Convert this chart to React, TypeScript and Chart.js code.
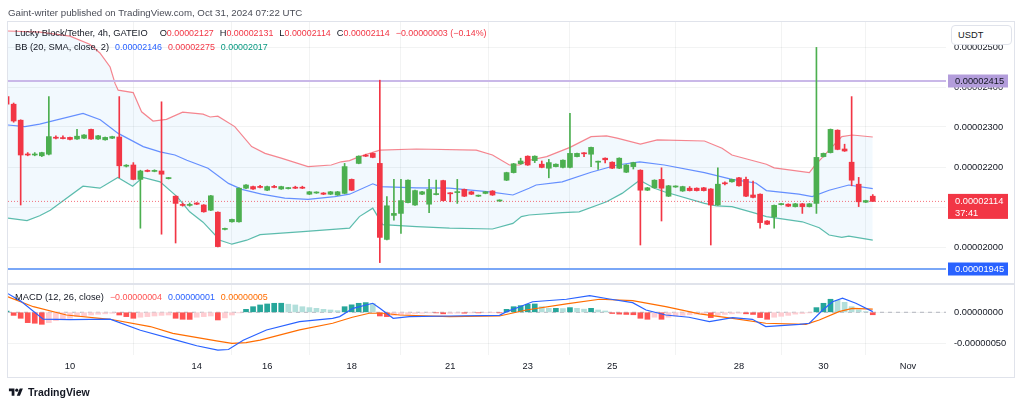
import React, { useEffect, useRef } from "react";
import { Chart, registerables } from "chart.js";

Chart.register(...registerables);

// Prices are in units of 1e-8 USDT (2300 = 0.00002300)
const candleOpen = [
  2376, 2357, 2317, 2232, 2230, 2228, 2232, 2274, 2273, 2274,
  2270, 2272, 2294, 2270, 2268, 2272, 2275, 2202, 2205, 2169,
  2191, 2189, 2190, 2171, 2127, 2106, 2104, 2110, 2105, 2092,
  2087, 2044, 2063, 2063, 2147, 2151, 2151, 2142, 2151, 2145,
  2146, 2149, 2149, 2132, 2135, 2135, 2132, 2130, 2134, 2169,
  2209, 2229, 2234, 2209, 2019, 2079, 2084, 2111, 2105, 2132,
  2107, 2131, 2166, 2135, 2136, 2144, 2138, 2127, 2134, 2140,
  2115, 2167, 2186, 2208, 2227, 2216, 2207, 2197, 2201, 2199,
  2199, 2226, 2235, 2232, 2212, 2222, 2212, 2197, 2187, 2201,
  2192, 2142, 2148, 2169, 2127, 2150, 2140, 2147, 2147, 2148,
  2145, 2105, 2160, 2163, 2173, 2169, 2130, 2132, 2065, 2075,
  2106, 2107, 2101, 2108, 2101, 2109, 2226, 2236, 2292, 2245,
  2212, 2157, 2112, 2127,
];
const candleHigh = [
  2380, 2360, 2318, 2236, 2236, 2237, 2376, 2278, 2278, 2275,
  2294, 2281, 2295, 2279, 2275, 2277, 2376, 2206, 2211, 2192,
  2193, 2193, 2363, 2174, 2128, 2110, 2110, 2111, 2106, 2129,
  2088, 2047, 2070, 2148, 2156, 2152, 2154, 2152, 2154, 2152,
  2149, 2152, 2152, 2139, 2138, 2136, 2139, 2139, 2209, 2170,
  2228, 2232, 2235, 2417, 2126, 2169, 2169, 2168, 2142, 2139,
  2169, 2167, 2167, 2136, 2169, 2145, 2139, 2130, 2139, 2141,
  2118, 2187, 2209, 2222, 2228, 2228, 2215, 2219, 2208, 2218,
  2334, 2235, 2236, 2250, 2215, 2223, 2213, 2223, 2206, 2212,
  2193, 2149, 2168, 2198, 2154, 2153, 2152, 2151, 2148, 2149,
  2146, 2198, 2163, 2170, 2174, 2175, 2165, 2133, 2066, 2105,
  2109, 2108, 2109, 2109, 2109, 2499, 2235, 2295, 2293, 2257,
  2376, 2174, 2117, 2131,
];
const candleLow = [
  2350, 2312, 2105, 2228, 2228, 2226, 2230, 2270, 2270, 2268,
  2269, 2271, 2269, 2269, 2267, 2271, 2173, 2200, 2168, 2047,
  2188, 2188, 2032, 2170, 2010, 2102, 2102, 2106, 2087, 2091,
  2000, 2043, 2062, 2062, 2146, 2144, 2148, 2141, 2148, 2144,
  2145, 2146, 2146, 2131, 2134, 2131, 2131, 2129, 2133, 2141,
  2208, 2226, 2223, 1961, 2018, 2067, 2034, 2110, 2104, 2131,
  2086, 2130, 2115, 2113, 2109, 2126, 2131, 2126, 2133, 2129,
  2114, 2166, 2185, 2207, 2204, 2211, 2198, 2173, 2200, 2198,
  2198, 2225, 2226, 2201, 2194, 2210, 2196, 2196, 2186, 2195,
  2005, 2141, 2147, 2065, 2126, 2149, 2139, 2140, 2140, 2140,
  2005, 2104, 2155, 2162, 2152, 2126, 2123, 2047, 2056, 2047,
  2105, 2101, 2100, 2084, 2100, 2084, 2225, 2235, 2243, 2239,
  2153, 2101, 2111, 2114,
];
const candleClose = [
  2357, 2315, 2230, 2230, 2232, 2236, 2276, 2272, 2271, 2269,
  2277, 2280, 2270, 2278, 2274, 2276, 2203, 2204, 2169, 2190,
  2189, 2191, 2182, 2173, 2109, 2104, 2106, 2107, 2088, 2128,
  2001, 2046, 2069, 2147, 2155, 2145, 2149, 2151, 2149, 2151,
  2148, 2147, 2147, 2138, 2137, 2132, 2138, 2138, 2201, 2142,
  2227, 2227, 2224, 2024, 2103, 2084, 2116, 2167, 2141, 2138,
  2144, 2133, 2116, 2133, 2138, 2127, 2132, 2129, 2138, 2130,
  2117, 2186, 2208, 2215, 2205, 2227, 2199, 2211, 2207, 2217,
  2234, 2234, 2233, 2249, 2214, 2218, 2197, 2222, 2205, 2211,
  2142, 2148, 2167, 2147, 2153, 2152, 2151, 2141, 2141, 2141,
  2105, 2157, 2158, 2169, 2153, 2127, 2124, 2061, 2057, 2104,
  2108, 2102, 2108, 2101, 2108, 2224, 2234, 2294, 2244, 2240,
  2167, 2113, 2116, 2114,
];

// x-axis day labels (bar index where each day starts)
const dayTickIndex = [9, 27, 37, 49, 63, 74, 86, 104, 116, 128];
const dayTickLabel = ["10", "14", "16", "18", "21", "23", "25", "28", "30", "Nov"];

// Bollinger Bands (20, SMA, close, 2) vertices: [bar index, value]
const bbUpper = [
  [0.2, 2540], [4.75, 2537], [9, 2527], [11.8, 2507], [13.25, 2485], [14.7, 2450],
  [15.4, 2409], [15.85, 2392], [17.98, 2386], [19.17, 2338], [20.8, 2315], [22.7, 2319],
  [25, 2337], [27.9, 2332], [28.9, 2325], [30, 2327], [32.4, 2301], [34.8, 2251],
  [36.7, 2234], [39, 2222], [42.8, 2201], [46.1, 2205], [47.5, 2213], [48.7, 2216],
  [50.1, 2226], [53, 2242], [58.2, 2245], [66.7, 2242], [69, 2230], [71.4, 2205],
  [72.8, 2205], [74.2, 2217], [76.7, 2226], [80, 2249], [83, 2276], [85.2, 2278],
  [86.7, 2272], [90, 2257], [92.4, 2268], [99.1, 2265], [101.6, 2247], [103, 2230],
  [107.9, 2207], [109, 2198], [114, 2186], [114.7, 2202], [116.8, 2242], [118.6, 2276],
  [120.1, 2280], [123, 2275],
];
const bbMiddle = [
  [0.2, 2305], [2.6, 2301], [4.7, 2307], [10.85, 2334], [13.3, 2318], [15.85, 2284],
  [19.4, 2251], [21.8, 2238], [23.9, 2230], [25.6, 2217], [28.6, 2197], [31.5, 2159],
  [33.4, 2144], [36.2, 2132], [39.5, 2122], [42.8, 2119], [46.6, 2126], [48.7, 2132],
  [52, 2158], [53, 2151], [58.2, 2148], [62.9, 2147], [68.6, 2138], [71.9, 2130],
  [74.2, 2147], [75.2, 2155], [78.9, 2163], [83, 2187], [86.7, 2205], [89.9, 2213],
  [93.4, 2205], [99.1, 2186], [103, 2169], [106.4, 2160], [107.9, 2141], [112.5, 2132],
  [114.4, 2126], [116.8, 2142], [119.6, 2155], [123, 2146],
];
const bbLower = [
  [0.2, 2072], [2.9, 2066], [4.7, 2078], [6.2, 2092], [10.85, 2152], [13.25, 2147],
  [15.8, 2174], [17.9, 2152], [19.35, 2174], [21.8, 2163], [24.2, 2126], [26, 2088],
  [27.9, 2062], [30.3, 2017], [32, 2007], [34.1, 2017], [36, 2031], [41.6, 2038],
  [48.7, 2047], [50.1, 2076], [52, 2097], [53.4, 2056], [58.2, 2051], [62.9, 2047],
  [69, 2045], [71.9, 2059], [73.1, 2076], [74.2, 2080], [78.9, 2086], [81.3, 2088],
  [85.2, 2113], [87.4, 2134], [89.9, 2167], [92, 2147], [93.4, 2138], [99.1, 2109],
  [100.8, 2103], [103, 2101], [106.4, 2084], [107.9, 2076], [113, 2063], [115.4, 2048],
  [116.8, 2030], [118.6, 2024], [119.6, 2027], [123, 2017],
];

// MACD (12, 26, close) histogram per bar, in 1e-8 units
const macdHist = [
  2, -5, -9.7, -16.7, -17.7, -19.4, -16.7, -13.5, -11.3, -9.7,
  -7, -6, -4.4, -3.2, -2.5, -1.6, -4.4, -7, -9.7, -8,
  -7, -6, -5, -4.4, -9.7, -11.3, -11.5, -8, -7, -6,
  -12.4, -9, -4.4, -1, 4.8, 9, 11.8, 13.4, 14.5, 14.6,
  13, 11.8, 9, 7.5, 6.4, 4.8, 3.7, 2.6, 9, 12,
  14.5, 15.6, 14, -6, -7, -5, -4, -3, -2, -1.5,
  -1, -1, -2.5, -2, -1.5, -1.5, -1, -1, -0.8, -0.5,
  -1, 4.8, 9, 10.7, 12.9, 13.4, 9, 6.4, 6.4, 6,
  7.5, 6.4, 5, 6.4, 3.7, 2.1, -2, -3, -3.5, -4,
  -9.7, -11.3, -8, -11.3, -8, -6, -5, -4, -3, -2,
  -8.6, -5, -3.5, -2.5, -1.5, -2.5, -3.5, -8.6, -11.3, -8,
  -6.5, -5, -3, -2, -1, 7.5, 14.5, 21, 19.4, 16,
  9, 4, 1, -4,
];
const macdLine = [
  [0.2, 30], [2, 18], [5.2, -11], [9, -12], [14.7, -11], [19, -29], [24.1, -45],
  [27, -54], [30, -61], [31.5, -60], [33.6, -45], [36.9, -28.5], [41.6, -15],
  [46.3, -9.7], [47.3, -7], [49.2, 6.4], [52, 14.5], [53, 6.4], [54.9, -9.7],
  [57.2, -7], [62.9, -6], [70, -5], [71, 1], [72.8, 8.5], [74.7, 17], [79.5, 21],
  [82.8, 26.8], [85.6, 21.4], [88.9, 15.5], [90.8, 3.7], [93.6, -4.4], [96.9, -8],
  [99.8, -15], [103.1, -8.6], [105.9, -11.3], [107.8, -23], [112.6, -19.4],
  [114, -17.7], [115.9, 3.7], [117.3, 17], [118.7, 22.6], [120.6, 14.5], [123, 1],
];
const signalLine = [
  [0.2, 25], [3.8, 9], [8.5, -4.4], [14.7, -11.3], [20.4, -23], [23.6, -34],
  [29.8, -46], [32, -50], [34, -49], [36, -45], [41.6, -28.5], [46.3, -17.7],
  [49.1, -8], [51.5, -1.6], [53.4, -1.6], [55.8, -4.4], [62.9, -7], [70, -6],
  [73.8, 3.7], [79.5, 13.4], [84.2, 21], [88.9, 18.7], [93.6, 9], [98.4, -2.7],
  [103.1, -9.7], [107.8, -17.7], [113.5, -19.4], [115.4, -12.4], [118.2, 1],
  [120.1, 6.4], [123, 5],
];

const resistanceLevel = 2415;
const supportLevel = 1945;
const lastPrice = 2114;
const countdown = "37:41";

const X_MIN = 0.2;
const X_MAX = 133.4;
const GREEN = "#4caf50";
const RED = "#f23645";
const FONT = '"Liberation Sans", Arial, sans-serif';

const fmt = (v: number) => (v / 1e8).toFixed(8);

const tagPlugin = {
  id: "tags",
  afterDraw(chart: any) {
    const { ctx } = chart;
    const y = chart.scales.y;
    ctx.save();
    ctx.fillStyle = "#e0e3eb";
    ctx.fillRect(8, y.bottom - 1, 1006, 2);
    const left = y.left + 2;
    const w = 60;
    ctx.font = "9.3px " + FONT;
    ctx.textBaseline = "middle";
    ctx.textAlign = "left";
    const tag = (value: number, bg: string, fg: string, lines: string[]) => {
      const py = y.getPixelForValue(value);
      const h = lines.length > 1 ? 25 : 13;
      const top = lines.length > 1 ? py - 7.5 : py - 6.5;
      ctx.fillStyle = bg;
      ctx.fillRect(left, top, w, h);
      ctx.fillStyle = fg;
      lines.forEach((t, i) => ctx.fillText(t, left + 7, py + 0.5 + i * 12));
    };
    tag(resistanceLevel, "#b39ddb", "#131722", [fmt(resistanceLevel)]);
    tag(supportLevel, "#2962ff", "#ffffff", [fmt(supportLevel)]);
    tag(lastPrice, RED, "#ffffff", [fmt(lastPrice), countdown]);
    ctx.restore();
  },
};

export default function App() {
  const canvasRef = useRef<HTMLCanvasElement | null>(null);

  useEffect(() => {
    const canvas = canvasRef.current;
    if (!canvas) return;
    const idx = candleOpen.map((_, i) => i);
    const bodyColors = idx.map((i) => (candleClose[i] >= candleOpen[i] ? GREEN : RED));
    const bodies = idx.map((i) => ({ x: i, y: [candleOpen[i], candleClose[i]] }));
    const wicks = idx.map((i) => ({ x: i, y: [candleLow[i], candleHigh[i]] }));
    const histData = macdHist.map((v, i) => ({ x: i, y: v }));
    const histColors = macdHist.map((v, i) => {
      const p = i > 0 ? macdHist[i - 1] : 0;
      if (v >= 0) return v >= p ? "#26a69a" : "#b2dfdb";
      return v <= p ? "#ff5252" : "#ffcdd2";
    });
    const pts = (a: number[][]) => a.map(([x, v]) => ({ x, y: v }));
    const hline = (v: number) => [
      { x: X_MIN, y: v },
      { x: X_MAX, y: v },
    ];
    const lineBase = { type: "line", pointRadius: 0, tension: 0, fill: false };

    const chart = new Chart(canvas, {
      type: "bar",
      data: {
        datasets: [
          { ...lineBase, label: "bbUpper", data: pts(bbUpper), yAxisID: "y", borderColor: "rgba(242,54,69,0.6)", borderWidth: 1.2, order: 10 },
          { ...lineBase, label: "bbLower", data: pts(bbLower), yAxisID: "y", borderColor: "rgba(8,153,129,0.65)", borderWidth: 1.2, order: 10, fill: { target: 0 }, backgroundColor: "rgba(33,150,243,0.06)" },
          { ...lineBase, label: "bbMiddle", data: pts(bbMiddle), yAxisID: "y", borderColor: "rgba(41,98,255,0.7)", borderWidth: 1.2, order: 9 },
          { ...lineBase, label: "resistance", data: hline(resistanceLevel), yAxisID: "y", borderColor: "#c9b8e8", borderWidth: 2, order: 8 },
          { ...lineBase, label: "support", data: hline(supportLevel), yAxisID: "y", borderColor: "#7aa7f7", borderWidth: 2, order: 8 },
          { ...lineBase, label: "last", data: hline(lastPrice), yAxisID: "y", borderColor: "rgba(242,54,69,0.7)", borderWidth: 1, borderDash: [1, 2], order: 7 },
          { type: "bar", label: "wicks", data: wicks, yAxisID: "y", backgroundColor: bodyColors, barThickness: 1, grouped: false, order: 3 },
          { type: "bar", label: "bodies", data: bodies, yAxisID: "y", backgroundColor: bodyColors, barThickness: 5, minBarLength: 1, grouped: false, order: 2 },
          { ...lineBase, label: "zero", data: hline(0), yAxisID: "y2", borderColor: "#b2b5be", borderWidth: 1, borderDash: [4, 4], order: 8 },
          { type: "bar", label: "hist", data: histData, yAxisID: "y2", backgroundColor: histColors, barThickness: 5, grouped: false, order: 6 },
          { ...lineBase, label: "signal", data: pts(signalLine), yAxisID: "y2", borderColor: "#ff6d00", borderWidth: 1.2, order: 5 },
          { ...lineBase, label: "macd", data: pts(macdLine), yAxisID: "y2", borderColor: "#2962ff", borderWidth: 1.2, order: 4 },
        ],
      },
      options: {
        responsive: false,
        maintainAspectRatio: false,
        devicePixelRatio: 1,
        animation: false,
        events: [],
        layout: { padding: { left: 8, top: 22, right: 10, bottom: 28 } },
        plugins: { legend: { display: false }, tooltip: { enabled: false } },
        scales: {
          x: {
            type: "linear",
            min: X_MIN,
            max: X_MAX,
            offset: false,
            afterBuildTicks: (scale: any) => {
              scale.ticks = dayTickIndex.map((v) => ({ value: v }));
            },
            afterFit: (scale: any) => {
              scale.height = 23;
            },
            ticks: {
              autoSkip: false,
              maxRotation: 0,
              padding: 6,
              color: "#131722",
              font: { family: FONT, size: 9.3 },
              callback: (_v: any, i: number) => dayTickLabel[i],
            },
            grid: { color: "rgba(42,46,57,0.06)", drawTicks: false },
            border: { display: false },
          },
          y: {
            type: "linear",
            position: "right",
            stack: "panes",
            stackWeight: 262,
            min: 1907.5,
            max: 2562.5,
            afterFit: (scale: any) => {
              scale.width = 68;
            },
            ticks: {
              stepSize: 100,
              includeBounds: false,
              padding: 8,
              color: "#131722",
              font: { family: FONT, size: 9.3 },
              callback: (v: any) => fmt(Number(v)),
            },
            grid: { color: "rgba(42,46,57,0.06)", drawTicks: false },
            border: { display: false },
          },
          y2: {
            type: "linear",
            position: "right",
            stack: "panes",
            stackWeight: 71,
            min: -68.9,
            max: 45.6,
            afterFit: (scale: any) => {
              scale.width = 68;
            },
            ticks: {
              stepSize: 50,
              includeBounds: false,
              padding: 8,
              color: "#131722",
              font: { family: FONT, size: 9.3 },
              callback: (v: any) => fmt(Number(v)),
            },
            grid: { color: "rgba(42,46,57,0.06)", drawTicks: false },
            border: { display: false },
          },
        },
      } as any,
      plugins: [tagPlugin],
    } as any);
    return () => chart.destroy();
  }, []);

  const row = (top: number, firstGap: number, items: { t: string; c: string; s?: number }[][]) => (
    <div style={{ position: "absolute", left: 15, top, display: "flex", gap: 6, lineHeight: "12px", whiteSpace: "pre" }}>
      {items.map((parts, i) => (
        <span key={i} style={{ marginRight: i === 0 ? firstGap : 0 }}>
          {parts.map((p, j) => (
            <span key={j} style={{ color: p.c, fontSize: p.s ?? 9.3 }}>{p.t}</span>
          ))}
        </span>
      ))}
    </div>
  );
  const DARK = "#131722";
  const V = 8.9;

  return (
    <div
      style={{
        position: "fixed",
        left: 0,
        top: 0,
        width: 1024,
        height: 406,
        background: "#ffffff",
        overflow: "hidden",
        fontFamily: FONT,
        fontSize: 9.3,
      }}
    >
      <canvas ref={canvasRef} width={1024} height={406} style={{ position: "absolute", left: 0, top: 0, width: 1024, height: 406 }} />
      <div style={{ position: "absolute", left: 7, top: 21, width: 1006, height: 355, border: "1px solid #e0e3eb", pointerEvents: "none" }} />
      <span style={{ position: "absolute", left: 8, top: 7, color: "#4a4d57", fontSize: 9.7, lineHeight: "12px", whiteSpace: "pre" }}>
        Gaint-writer published on TradingView.com, Oct 31, 2024 07:22 UTC
      </span>

      {row(27, 6, [
        [{ t: "Lucky Block/Tether, 4h, GATEIO", c: DARK }],
        [{ t: "O", c: DARK }, { t: "0.00002127", c: RED, s: V }],
        [{ t: "H", c: DARK }, { t: "0.00002131", c: RED, s: V }],
        [{ t: "L", c: DARK }, { t: "0.00002114", c: RED, s: V }],
        [{ t: "C", c: DARK }, { t: "0.00002114", c: RED, s: V }],
        [{ t: "\u22120.00000003 (\u22120.14%)", c: RED, s: V }],
      ])}
      {row(41, 0, [
        [{ t: "BB (20, SMA, close, 2)", c: DARK }],
        [{ t: "0.00002146", c: "#2962ff", s: V }],
        [{ t: "0.00002275", c: RED, s: V }],
        [{ t: "0.00002017", c: "#089981", s: V }],
      ])}
      {row(291, 0, [
        [{ t: "MACD (12, 26, close)", c: DARK }],
        [{ t: "\u22120.00000004", c: "#ff5252", s: V }],
        [{ t: "0.00000001", c: "#2962ff", s: V }],
        [{ t: "0.00000005", c: "#ff6d00", s: V }],
      ])}

      <div
        style={{
          position: "absolute",
          left: 951,
          top: 25,
          width: 53,
          height: 18,
          border: "1px solid #e0e3eb",
          borderRadius: 4,
          background: "#ffffff",
          color: DARK,
          fontSize: 9.3,
          lineHeight: "18px",
          paddingLeft: 6,
          boxSizing: "content-box",
        }}
      >
        USDT
      </div>

      <div style={{ position: "absolute", left: 8, top: 386, display: "flex", alignItems: "center", gap: 4 }}>
        <svg width="16" height="11" viewBox="0 0 36 28">
          <path d="M14 22H7V11H0V4h14v18zM28 22h-8l7.5-18h8L28 22z" fill={DARK} />
          <circle cx="20" cy="8" r="4" fill={DARK} />
        </svg>
        <span style={{ color: DARK, fontWeight: 700, fontSize: 10.5, lineHeight: "12px" }}>TradingView</span>
      </div>
    </div>
  );
}
